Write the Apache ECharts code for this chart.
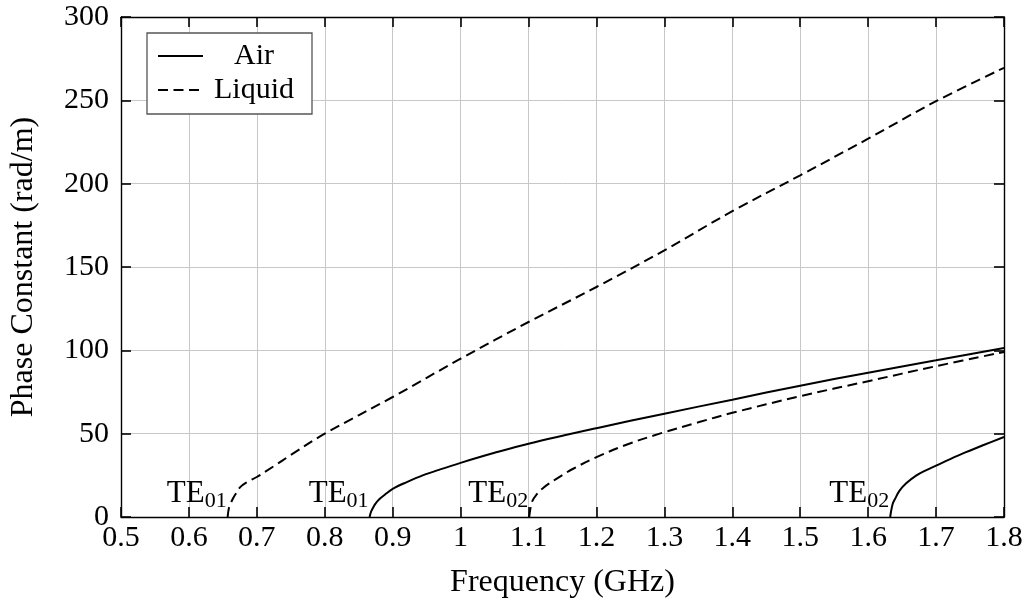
<!DOCTYPE html>
<html>
<head>
<meta charset="utf-8">
<script src="https://cdn.jsdelivr.net/npm/echarts@6/dist/echarts.min.js"></script>
<style>
html,body{margin:0;padding:0;background:#fff;}
#chart{width:1028px;height:605px;}
</style>
</head>
<body>
<div id="chart"></div>
<script>
// ---- data (frequency GHz, phase constant rad/m) ----
const airTE01 = [[0.866,0],[0.868,3],[0.8715,5.9],[0.875,8.2],[0.881,10.9],[0.89,13.9],[0.9,16.9],[0.92,20.8],[0.945,25.1],[0.97,28.6],[1.0,32.5],[1.05,38.5],[1.1,44],[1.2,53.3],[1.3,62],[1.4,70.4],[1.5,78.8],[1.6,86.6],[1.7,94],[1.8,101.4]];
const airTE02 = [[1.6324,0],[1.636,7.7],[1.64,11.2],[1.646,15.7],[1.656,20.2],[1.6706,24.8],[1.685,28],[1.7,30.8],[1.72,34.6],[1.744,38.9],[1.77,43.2],[1.8,48]];
const liquidTE01 = [[0.657,0],[0.659,5.5],[0.663,9.6],[0.668,13.3],[0.6755,17.9],[0.686,21],[0.7,24],[0.725,30.5],[0.75,37.2],[0.8,50],[0.9,72],[1.0,95],[1.1,117],[1.2,138],[1.3,160],[1.4,183.5],[1.5,205],[1.6,227],[1.7,249.5],[1.8,269.5]];
const liquidTE02 = [[1.101,0],[1.105,9],[1.112,13.6],[1.122,17.6],[1.141,22.9],[1.165,28.8],[1.2,35.9],[1.245,43.5],[1.293,50],[1.35,56.8],[1.4,62.5],[1.5,72.5],[1.6,81.5],[1.7,90.5],[1.8,99]];
const modeLabels = [
  {x:0.657, sub:'01'},
  {x:0.866, sub:'01'},
  {x:1.101, sub:'02'},
  {x:1.6324, sub:'02'}
];
const legendNames = ['Air','Liquid'];
const xTitle = 'Frequency (GHz)';
const yTitle = 'Phase Constant (rad/m)';

const FONT = 'Liberation Serif';
const FS = 30;
const dash = [10, 5.5];

function curve(name, data, dashed){
  return {
    name: name, type:'line', data: data, symbol:'none', smooth:0.35,
    lineStyle:{color:'#000', width:2, type: dashed ? dash : 'solid'},
    itemStyle:{color:'#000'},
    z:3, silent:true, animation:false
  };
}

const labelSeries = {
  name:'modes', type:'scatter', symbolSize:0, silent:true, animation:false,
  itemStyle:{opacity:1, color:'#000'},
  data: modeLabels.map(m => ({value:[m.x,0], sub:m.sub})),
  label:{
    show:true, position:[-1,-5], align:'right', verticalAlign:'bottom', opacity:1,
    formatter: p => '{a|TE}{b|' + p.data.sub + '}',
    rich:{
      a:{fontFamily:FONT, fontSize:31, color:'#000', lineHeight:34, verticalAlign:'top'},
      b:{fontFamily:FONT, fontSize:22, color:'#000', lineHeight:22, verticalAlign:'bottom'}
    }
  }
};

const axisCommon = {
  axisLine:{show:true, onZero:false, lineStyle:{color:'#000', width:1.4}},
  axisTick:{show:true, inside:true, length:10, lineStyle:{color:'#000', width:1.6}}
};

const chart = echarts.init(document.getElementById('chart'), null, {renderer:'canvas'});
chart.setOption({
  backgroundColor:'#fff',
  animation:false,
  grid:{left:121, right:24, top:17, bottom:88},
  legend:{
    data: legendNames, left:147, top:33, orient:'vertical',
    padding:[8,12,9,10], itemGap:4, itemWidth:45, itemHeight:1, itemTextGap:4,
    backgroundColor:'#fff', borderColor:'#555', borderWidth:1.3, borderRadius:0,
    selectedMode:false,
    formatter: n => '{t|' + n + '}',
    textStyle:{rich:{t:{fontFamily:FONT, fontSize:FS, color:'#000', width:92, align:'center', lineHeight:32}}}
  },
  xAxis:[
    Object.assign({type:'value', min:0.5, max:1.8, interval:0.1, position:'bottom',
      name:xTitle, nameLocation:'middle', nameGap:50,
      nameTextStyle:{fontFamily:FONT, fontSize:32, color:'#000'},
      axisLabel:{fontFamily:FONT, fontSize:FS, color:'#000', margin:6,
        formatter: v => String(Math.round(v*10)/10)},
      splitLine:{show:true, lineStyle:{color:'#c8c8c8', width:1}}}, axisCommon),
    Object.assign({type:'value', min:0.5, max:1.8, interval:0.1, position:'top',
      axisLabel:{show:false}, splitLine:{show:false}}, axisCommon)
  ],
  yAxis:[
    Object.assign({type:'value', min:0, max:300, interval:50, position:'left',
      name:yTitle, nameLocation:'middle', nameGap:81,
      nameTextStyle:{fontFamily:FONT, fontSize:32, color:'#000'},
      axisLabel:{fontFamily:FONT, fontSize:FS, color:'#000', margin:12},
      splitLine:{show:true, lineStyle:{color:'#c8c8c8', width:1}}}, axisCommon),
    Object.assign({type:'value', min:0, max:300, interval:50, position:'right',
      axisLabel:{show:false}, splitLine:{show:false}}, axisCommon)
  ],
  series:[
    curve('Air', airTE01, false),
    curve('Air', airTE02, false),
    curve('Liquid', liquidTE01, true),
    curve('Liquid', liquidTE02, true),
    labelSeries
  ]
});
</script>
</body>
</html>
